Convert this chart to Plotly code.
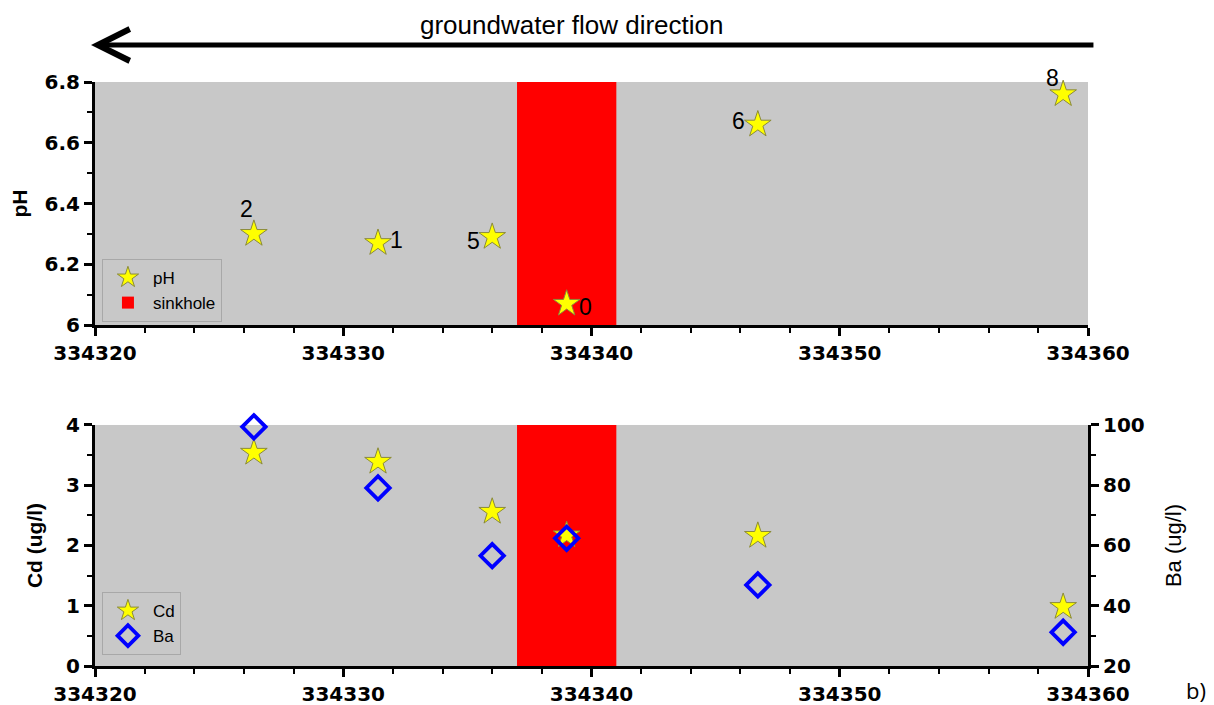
import plotly.graph_objects as go

# ---- data ----
sample_labels = ["2", "1", "5", "0", "6", "8"]
easting = [334326.4, 334331.4, 334336.0, 334339.0, 334346.7, 334359.0]
ph_values = [6.30, 6.27, 6.29, 6.07, 6.66, 6.76]
cd_values = [3.54, 3.39, 2.56, 2.17, 2.16, 0.98]
ba_values = [99.4, 79.1, 56.6, 62.4, 46.9, 31.2]
sinkhole_x = [334337.0, 334341.0]

x_range = [334320, 334360]
ph_range = [6.0, 6.8]
cd_range = [0, 4]
ba_range = [20, 100]

# label offsets (pixels) relative to each star: styling only
label_dx = [-7, 18, -19, 19, -19, -11]
label_dy = [25, 3, -4, -3, 4, 16]

sink_center = (sinkhole_x[0] + sinkhole_x[1]) / 2
sink_width = sinkhole_x[1] - sinkhole_x[0]

STAR_FILL = "#ffff00"
STAR_LINE = "#8a8a3a"
GRAY = "#c8c8c8"

fig = go.Figure()

# sinkhole bars (drawn first, beneath markers)
fig.add_trace(go.Bar(
    x=[sink_center], y=[ph_range[1] - ph_range[0]], base=[ph_range[0]],
    width=[sink_width], marker=dict(color="#ff0000", line=dict(width=0)),
    name="sinkhole", xaxis="x", yaxis="y", legend="legend", legendrank=2,
    hoverinfo="skip"))
fig.add_trace(go.Bar(
    x=[sink_center], y=[cd_range[1] - cd_range[0]], base=[cd_range[0]],
    width=[sink_width], marker=dict(color="#ff0000", line=dict(width=0)),
    name="sinkhole", showlegend=False, xaxis="x2", yaxis="y2",
    hoverinfo="skip"))

# pH stars
fig.add_trace(go.Scatter(
    x=easting, y=ph_values, mode="markers", name="pH",
    marker=dict(symbol="star", size=20, color=STAR_FILL,
                line=dict(color=STAR_LINE, width=1)),
    xaxis="x", yaxis="y", legend="legend", legendrank=1, cliponaxis=False))

# Cd stars
fig.add_trace(go.Scatter(
    x=easting, y=cd_values, mode="markers", name="Cd",
    marker=dict(symbol="star", size=20, color=STAR_FILL,
                line=dict(color=STAR_LINE, width=1)),
    xaxis="x2", yaxis="y2", legend="legend2", legendrank=1, cliponaxis=False))

# Ba diamonds
fig.add_trace(go.Scatter(
    x=easting, y=ba_values, mode="markers", name="Ba",
    marker=dict(symbol="diamond-open", size=18, color="#0000ff",
                line=dict(color="#0000ff", width=3.8)),
    xaxis="x2", yaxis="y3", legend="legend2", legendrank=2, cliponaxis=False))

tickfont = dict(family="DejaVu Sans", size=20, color="black", weight="bold")
axis_common = dict(showgrid=False, zeroline=False, showline=True,
                   linecolor="black", linewidth=3, ticks="outside",
                   ticklen=8, tickwidth=2.5, tickcolor="black",
                   tickfont=tickfont, automargin=False)

xaxis_common = dict(axis_common, range=x_range, dtick=10, tick0=334320,
                    tickformat="d",
                    minor=dict(dtick=2, ticks="outside", ticklen=5,
                               tickwidth=2, tickcolor="black"))

top_dom = [0.5839, 1.0]
bot_dom = [0.0, 0.4127]

# page body has an 8px default margin: size the figure to fit the window
fig.update_layout(
    width=1206, height=697,
    margin=dict(l=87, r=126, t=74, b=39),
    paper_bgcolor="white", plot_bgcolor=GRAY,
    barmode="overlay",
    font=dict(family="Liberation Sans", color="black"),
    xaxis=dict(xaxis_common, domain=[0, 1], anchor="y"),
    yaxis=dict(axis_common, domain=top_dom, anchor="x", range=ph_range,
               dtick=0.2, tick0=6,
               minor=dict(dtick=0.1, ticks="outside", ticklen=5,
                          tickwidth=2, tickcolor="black"),
               title=dict(text="<b>pH</b>", standoff=18,
                          font=dict(family="Liberation Sans", size=21))),
    xaxis2=dict(xaxis_common, domain=[0, 1], anchor="y2"),
    yaxis2=dict(axis_common, domain=bot_dom, anchor="x2", range=cd_range,
                dtick=1, tick0=0,
                minor=dict(dtick=0.5, ticks="outside", ticklen=5,
                           tickwidth=2, tickcolor="black"),
                title=dict(text="<b>Cd (ug/l)</b>", standoff=18,
                           font=dict(family="Liberation Sans", size=21))),
    yaxis3=dict(axis_common, overlaying="y2", side="right", anchor="x2",
                range=ba_range, dtick=20, tick0=20,
                minor=dict(dtick=10, ticks="outside", ticklen=5,
                           tickwidth=2, tickcolor="black"),
                title=dict(text="Ba (ug/l)", standoff=22,
                           font=dict(family="Liberation Sans", size=22))),
    legend=dict(x=0.007, y=0.697, xanchor="left", yanchor="top",
                bgcolor=GRAY, bordercolor="#a8a8a8", borderwidth=1,
                font=dict(family="Liberation Sans", size=17),
                traceorder="normal", itemwidth=40),
    legend2=dict(x=0.007, y=0.1267, xanchor="left", yanchor="top",
                 bgcolor=GRAY, bordercolor="#a8a8a8", borderwidth=1,
                 font=dict(family="Liberation Sans", size=17),
                 traceorder="normal", itemwidth=40),
    showlegend=True,
)

# sample number labels next to the pH stars
for lab, xv, yv, dx, dy in zip(sample_labels, easting, ph_values,
                               label_dx, label_dy):
    fig.add_annotation(xref="x", yref="y", x=xv, y=yv, text=lab,
                       showarrow=False, xshift=dx, yshift=dy,
                       xanchor="center", yanchor="middle",
                       font=dict(family="Liberation Sans", size=23,
                                 color="black"))

# groundwater flow arrow and title
fig.add_annotation(xref="x domain", yref="paper", axref="x domain",
                   ayref="pixel",
                   x=-0.004, y=1.0634, ax=1.007, ay=0,
                   showarrow=True, arrowhead=5, arrowsize=1.25,
                   arrowwidth=5, arrowcolor="black", text="")
fig.add_annotation(xref="paper", yref="paper", x=0.48, y=1.0976,
                   xanchor="center", yanchor="middle",
                   text="groundwater flow direction", showarrow=False,
                   font=dict(family="Liberation Sans", size=26, color="black"))
fig.add_annotation(xref="paper", yref="paper", x=1.109, y=-0.041,
                   xanchor="center", yanchor="middle",
                   text="b)", showarrow=False,
                   font=dict(family="Open Sans", size=22, color="black"))

fig.write_html("out.html")
